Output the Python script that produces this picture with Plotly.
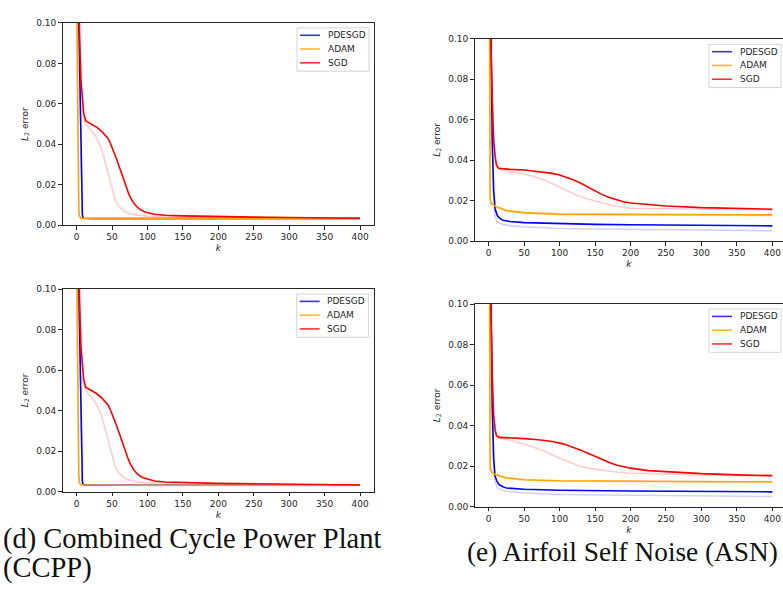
import plotly.graph_objects as go

# ---------------- data ----------------
# (d) CCPP  -- used for both left panels
ccpp_pde_k = [0, 3, 5, 7, 8, 9, 10, 20, 50, 100, 200, 300, 400]
ccpp_pde_v = [0.16, 0.10, 0.062, 0.022, 0.0055, 0.0036, 0.0034, 0.0033, 0.0033, 0.0033, 0.0033, 0.0033, 0.0033]
ccpp_pde_faint_v = [0.15, 0.095, 0.058, 0.02, 0.005, 0.0035, 0.0033, 0.0032, 0.0032, 0.0032, 0.0032, 0.0032, 0.0032]

ccpp_adam_k = [0, 1, 2, 3, 4, 6, 10, 50, 100, 200, 300, 400]
ccpp_adam_v = [0.115, 0.07, 0.025, 0.008, 0.0045, 0.0036, 0.0034, 0.0033, 0.0033, 0.0033, 0.0033, 0.0033]
ccpp_adam_faint_v = [0.11, 0.065, 0.022, 0.007, 0.0042, 0.0035, 0.0033, 0.0032, 0.0032, 0.0032, 0.0032, 0.0032]

ccpp_sgd_k = [0, 2, 4, 6, 8, 10, 13, 20, 28, 35, 40, 44, 47, 50, 53, 56, 59, 62, 66, 70, 73,
              76, 80, 85, 90, 95, 100, 110, 125, 150, 200, 250, 300, 350, 400]
ccpp_sgd_v = [0.25, 0.16, 0.095, 0.072, 0.061, 0.055, 0.0515, 0.0500, 0.0485, 0.0465, 0.0448,
              0.0430, 0.0410, 0.0385, 0.0358, 0.0330, 0.0300, 0.0268, 0.0228, 0.0188, 0.0160,
              0.0136, 0.0112, 0.0091, 0.0077, 0.0068, 0.0062, 0.0054, 0.0049, 0.0046, 0.0042,
              0.0040, 0.0038, 0.0036, 0.0034]
ccpp_sgd_faint_k = [0, 2, 4, 6, 8, 10, 13, 18, 25, 30, 34, 38, 42, 46, 50, 54, 58, 62, 68, 75, 85,
                    100, 150, 200, 300, 400]
ccpp_sgd_faint_v = [0.25, 0.16, 0.095, 0.071, 0.059, 0.053, 0.0500, 0.0480, 0.0450, 0.0418,
                    0.0385, 0.0340, 0.0285, 0.0228, 0.0172, 0.0130, 0.0102, 0.0085, 0.0068,
                    0.0057, 0.0050, 0.0045, 0.0040, 0.0038, 0.0035, 0.0033]

# (e) ASN, top-right panel
asn1_pde_k = [0, 3, 5, 7, 9, 12, 15, 20, 30, 50, 100, 150, 200, 300, 400]
asn1_pde_v = [0.2, 0.1, 0.05, 0.025, 0.016, 0.0128, 0.0115, 0.0103, 0.0097, 0.0092, 0.0086,
              0.0083, 0.0081, 0.0078, 0.0076]
asn1_pde_faint_v = [0.2, 0.1, 0.048, 0.022, 0.0125, 0.0098, 0.0090, 0.0083, 0.0077, 0.0071,
                    0.0063, 0.0060, 0.0058, 0.0055, 0.0052]

asn1_adam_k = [0, 1, 2, 4, 10, 25, 50, 100, 200, 300, 400]
asn1_adam_v = [0.25, 0.06, 0.021, 0.0185, 0.0172, 0.0152, 0.0141, 0.0134, 0.0133, 0.0131, 0.0130]
asn1_adam_faint_v = [0.25, 0.055, 0.019, 0.0175, 0.0165, 0.0147, 0.0137, 0.0130, 0.0129, 0.0127, 0.0126]

asn1_sgd_k = [0, 3, 5, 7, 9, 11, 14, 20, 30, 50, 70, 90, 100, 110, 120, 130, 140, 150, 160,
              170, 180, 190, 200, 225, 250, 300, 350, 400]
asn1_sgd_v = [0.25, 0.1, 0.07, 0.05, 0.042, 0.0375, 0.0360, 0.0357, 0.0355, 0.0352, 0.0345,
              0.0335, 0.0327, 0.0316, 0.0302, 0.0286, 0.0267, 0.0247, 0.0230, 0.0216, 0.0204,
              0.0195, 0.0189, 0.0180, 0.0174, 0.0166, 0.0161, 0.0158]
asn1_sgd_faint_k = [0, 3, 5, 7, 9, 11, 14, 20, 30, 50, 65, 80, 95, 110, 125, 140, 155, 165,
                    175, 190, 200, 250, 300, 400]
asn1_sgd_faint_v = [0.25, 0.1, 0.07, 0.05, 0.042, 0.0372, 0.0355, 0.0350, 0.0345, 0.0332,
                    0.0318, 0.0300, 0.0275, 0.0248, 0.0226, 0.0208, 0.0196, 0.0185, 0.0175,
                    0.0167, 0.0163, 0.0160, 0.0158, 0.0155]

# (e) ASN, bottom-right panel
asn2_pde_k = [0, 3, 5, 7, 9, 12, 15, 20, 25, 50, 100, 200, 300, 400]
asn2_pde_v = [0.2, 0.1, 0.05, 0.024, 0.015, 0.0122, 0.0108, 0.0098, 0.0092, 0.0086, 0.0081,
              0.0077, 0.0075, 0.0073]
asn2_pde_faint_v = [0.2, 0.1, 0.048, 0.020, 0.012, 0.0095, 0.0088, 0.0080, 0.0076, 0.0067,
                    0.0060, 0.0056, 0.0053, 0.0050]

asn2_adam_k = [0, 1, 2, 5, 10, 25, 50, 100, 200, 300, 400]
asn2_adam_v = [0.25, 0.06, 0.019, 0.0168, 0.0158, 0.0143, 0.0133, 0.0128, 0.0125, 0.0124, 0.0123]
asn2_adam_faint_v = [0.25, 0.055, 0.018, 0.0162, 0.0153, 0.0139, 0.0130, 0.0125, 0.0122, 0.0121, 0.0120]

asn2_sgd_k = [0, 3, 5, 7, 9, 11, 15, 30, 50, 70, 90, 105, 120, 130, 140, 150, 160, 170, 180,
              190, 200, 225, 250, 300, 350, 400]
asn2_sgd_v = [0.25, 0.1, 0.065, 0.045, 0.038, 0.035, 0.0342, 0.0340, 0.0336, 0.0330, 0.0322,
              0.0310, 0.0292, 0.0279, 0.0264, 0.0248, 0.0232, 0.0218, 0.0206, 0.0197, 0.0190,
              0.0178, 0.0172, 0.0163, 0.0157, 0.0153]
asn2_sgd_faint_k = [0, 3, 5, 7, 9, 11, 15, 30, 50, 65, 80, 95, 110, 125, 140, 160, 175, 200,
                    250, 300, 400]
asn2_sgd_faint_v = [0.25, 0.1, 0.065, 0.045, 0.038, 0.035, 0.0338, 0.0328, 0.0310, 0.0290,
                    0.0272, 0.0248, 0.0225, 0.0205, 0.0190, 0.0178, 0.0172, 0.0165, 0.0160,
                    0.0157, 0.0150]

series_names = ["PDESGD", "ADAM", "SGD"]
x_ticks = [0, 50, 100, 150, 200, 250, 300, 350, 400]
y_ticks = [0.00, 0.02, 0.04, 0.06, 0.08, 0.10]
captions = ["(d) Combined Cycle Power Plant", "(CCPP)", "(e) Airfoil Self Noise (ASN)"]

# ---------------- styling ----------------
W, H = 783, 589
FAINT = {"PDESGD": "rgba(0,0,255,0.18)", "ADAM": "rgba(255,165,0,0.25)", "SGD": "rgba(255,0,0,0.2)"}
BOLD = {"PDESGD": "#0000ff", "ADAM": "#ffa500", "SGD": "#ff0000"}
LEGCOL = {"PDESGD": "rgba(0,0,255,0.8)", "ADAM": "rgba(255,165,0,0.8)", "SGD": "rgba(255,0,0,0.8)"}
AX = "#262626"


def px_x(p):
    return p / W


def px_y(p):
    return 1 - p / H


panels = [
    dict(data=((ccpp_pde_k, ccpp_pde_v, ccpp_pde_faint_v), (ccpp_adam_k, ccpp_adam_v, ccpp_adam_faint_v),
               (ccpp_sgd_k, ccpp_sgd_v, ccpp_sgd_faint_k, ccpp_sgd_faint_v)),
         xd=(62.5, 374.2), yd=(18.3, 224.0), xr=(-20, 420), leg=(297, 23.3)),
    dict(data=((asn1_pde_k, asn1_pde_v, asn1_pde_faint_v), (asn1_adam_k, asn1_adam_v, asn1_adam_faint_v),
               (asn1_sgd_k, asn1_sgd_v, asn1_sgd_faint_k, asn1_sgd_faint_v)),
         xd=(474.5, 783), yd=(34.3, 240.3), xr=(-20, 415.0), leg=(709, 40)),
    dict(data=((ccpp_pde_k, ccpp_pde_v, ccpp_pde_faint_v), (ccpp_adam_k, ccpp_adam_v, ccpp_adam_faint_v),
               (ccpp_sgd_k, ccpp_sgd_v, ccpp_sgd_faint_k, ccpp_sgd_faint_v)),
         xd=(62.5, 374.2), yd=(289.0, 495.3), xr=(-20, 420), leg=(296.7, 294)),
    dict(data=((asn2_pde_k, asn2_pde_v, asn2_pde_faint_v), (asn2_adam_k, asn2_adam_v, asn2_adam_faint_v),
               (asn2_sgd_k, asn2_sgd_v, asn2_sgd_faint_k, asn2_sgd_faint_v)),
         xd=(474.5, 783), yd=(304.3, 510.3), xr=(-20, 415.0), leg=(709, 309.3)),
]

fig = go.Figure()
layout = dict(width=W, height=H, margin=dict(l=0, r=0, t=0, b=0),
              paper_bgcolor="white", plot_bgcolor="white", showlegend=False,
              font=dict(family="DejaVu Sans", size=9, color=AX))
shapes = []
annotations = []

for i, p in enumerate(panels):
    n = i + 1
    xa = "x" if n == 1 else f"x{n}"
    ya = "y" if n == 1 else f"y{n}"
    (pk, pv, pfv), (ak, av, afv), (sk, sv, sfk, sfv) = p["data"]
    # faint runs first
    fig.add_trace(go.Scatter(x=pk, y=pfv, mode="lines", xaxis=xa, yaxis=ya,
                             line=dict(color=FAINT["PDESGD"], width=1.6), hoverinfo="skip"))
    fig.add_trace(go.Scatter(x=ak, y=afv, mode="lines", xaxis=xa, yaxis=ya,
                             line=dict(color=FAINT["ADAM"], width=1.6), hoverinfo="skip"))
    fig.add_trace(go.Scatter(x=sfk, y=sfv, mode="lines", xaxis=xa, yaxis=ya,
                             line=dict(color=FAINT["SGD"], width=1.6), hoverinfo="skip"))
    for name, kk, vv in zip(series_names, (pk, ak, sk), (pv, av, sv)):
        fig.add_trace(go.Scatter(x=kk, y=vv, mode="lines", name=name, xaxis=xa, yaxis=ya,
                                 line=dict(color=BOLD[name], width=1.6)))

    right_cut = p["xd"][1] >= W
    layout["xaxis" if n == 1 else f"xaxis{n}"] = dict(
        domain=[px_x(p["xd"][0]), px_x(p["xd"][1])], range=list(p["xr"]), anchor=ya,
        tickvals=x_ticks, ticks="outside", ticklen=3.5, tickwidth=0.8, tickcolor=AX,
        showline=True, linecolor=AX, linewidth=0.9, mirror=True, showgrid=False, zeroline=False,
        tickfont=dict(size=9, color=AX),
        title=dict(text="k", font=dict(size=9, color=AX, style="italic"), standoff=3))
    layout["yaxis" if n == 1 else f"yaxis{n}"] = dict(
        domain=[px_y(p["yd"][1]), px_y(p["yd"][0])], range=[0, 0.1], anchor=xa,
        tickvals=y_ticks, tickformat=".2f", ticks="outside", ticklen=3.5, tickwidth=0.8,
        tickcolor=AX, showline=True, linecolor=AX, linewidth=0.9,
        mirror=(not right_cut), showgrid=False, zeroline=False,
        tickfont=dict(size=9, color=AX),
        title=dict(text="<i>L</i><sub>2</sub> error", font=dict(size=9, color=AX), standoff=6))

    # legend box (matplotlib-style), drawn in paper coordinates
    L, T = p["leg"]
    shapes.append(dict(type="rect", xref="paper", yref="paper",
                       x0=px_x(L), x1=px_x(min(L + 72, W - 1.5)), y0=px_y(T + 44), y1=px_y(T),
                       line=dict(color="#d4d4d4", width=1), fillcolor="rgba(255,255,255,0.8)",
                       layer="above"))
    for j, name in enumerate(series_names):
        yy = T + 7.5 + 14 * j
        shapes.append(dict(type="line", xref="paper", yref="paper",
                           x0=px_x(L + 3), x1=px_x(L + 23), y0=px_y(yy), y1=px_y(yy),
                           line=dict(color=LEGCOL[name], width=1.6), layer="above"))
        annotations.append(dict(text=name, xref="paper", yref="paper", x=px_x(L + 28.5),
                                y=px_y(yy), xanchor="left", yanchor="middle", showarrow=False,
                                font=dict(size=9, color=AX, family="DejaVu Sans")))

cap_font_d = dict(family="Liberation Serif", size=28.5, color="#111111")
cap_font_e = dict(family="Liberation Serif", size=27.3, color="#111111")
annotations.append(dict(text=captions[0], xref="paper", yref="paper", x=px_x(1), y=px_y(543),
                        xanchor="left", yanchor="middle", showarrow=False, font=cap_font_d))
annotations.append(dict(text=captions[1], xref="paper", yref="paper", x=px_x(1), y=px_y(573),
                        xanchor="left", yanchor="middle", showarrow=False, font=cap_font_d))
annotations.append(dict(text=captions[2], xref="paper", yref="paper", x=px_x(780), y=px_y(556),
                        xanchor="right", yanchor="middle", showarrow=False, font=cap_font_e))

layout["shapes"] = shapes
layout["annotations"] = annotations
fig.update_layout(**layout)

fig.write_html("out.html")
